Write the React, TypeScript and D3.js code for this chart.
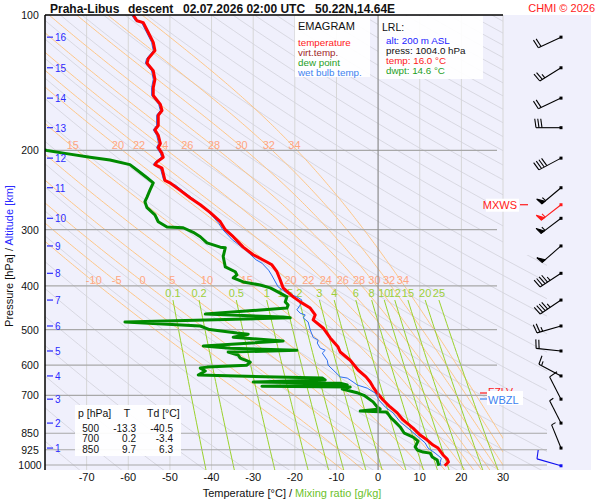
import { useEffect, useRef } from 'react'
import * as d3 from 'd3'

// sounding, Praha-Libus descent 02.07.2026 02:00 UTC (p in hPa, values in °C)
const tempP = [1004, 985, 970, 950, 917, 903, 880, 858, 828, 794, 766, 743, 717, 692, 671, 654, 637, 615, 585, 561, 547, 522, 496, 476, 464, 448, 434, 423, 404, 388, 372, 359, 354, 341, 328, 311, 300, 288, 275, 264, 255, 245, 236, 233, 219, 215, 212, 207, 203, 197, 193, 185, 180, 176, 167, 163, 158, 151, 145, 139, 133, 128, 125, 120, 115, 108, 104, 103, 100]
const tempT = [16.0, 16.9, 16.6, 15.6, 14.4, 13.2, 11.8, 10.1, 8.4, 6.0, 4.6, 2.9, 1.2, -0.2, -1.2, -1.9, -2.9, -4.8, -6.7, -9.1, -9.6, -11.5, -13.2, -15.6, -15.1, -16.3, -18.7, -20.4, -22.8, -23.5, -24.3, -25.5, -26.7, -30.0, -32.4, -34.8, -36.7, -37.9, -40.3, -42.7, -45.1, -47.6, -50.0, -51.2, -51.9, -53.6, -53.1, -51.6, -51.9, -52.8, -52.3, -52.8, -53.6, -52.8, -52.8, -51.9, -52.3, -54.0, -54.0, -53.6, -54.0, -55.5, -55.2, -53.6, -54.0, -55.5, -56.4, -57.9, -58.8]

const wetP = [1004, 985, 966, 941, 917, 893, 836, 802, 766, 743, 717, 692, 675, 664, 654, 641, 637, 615, 600, 585, 564, 556, 550, 536, 528, 520, 501, 481, 471, 464, 460, 452, 441, 430, 423, 415, 402, 378, 369, 356, 350, 333, 316, 300, 290, 281, 268, 258, 249, 239, 233, 219, 215, 212, 207, 203, 197, 193, 185, 180, 176, 167, 163, 158, 151, 145, 139, 133, 128, 125, 120, 115, 108, 104, 103, 100]
const wetT = [15.1, 14.9, 15.2, 13.7, 12.0, 11.3, 7.7, 5.3, 3.6, 1.7, 0.2, -0.7, -2.6, -5.0, -6.0, -7.4, -9.1, -10.8, -12.0, -12.2, -13.4, -12.7, -13.9, -14.6, -14.4, -15.6, -16.3, -16.8, -18.0, -17.5, -18.7, -19.5, -18.7, -18.3, -19.5, -21.9, -24.0, -25.6, -26.3, -27.9, -29.3, -31.8, -35.0, -37.3, -38.3, -39.6, -41.8, -44.0, -46.2, -48.6, -51.5, -52.3, -54.0, -53.5, -52.0, -52.3, -53.2, -52.7, -53.2, -54.0, -53.2, -53.2, -52.3, -52.7, -54.4, -54.4, -54.0, -54.4, -55.9, -55.6, -54.0, -54.4, -55.9, -56.8, -58.3, -59.2]

const dewP = [1004, 975, 960, 941, 936, 926, 912, 885, 867, 850, 823, 802, 786, 770, 762, 759, 751, 743, 724, 700, 692, 678, 671, 668, 664, 658, 654, 647, 641, 631, 618, 609, 606, 600, 591, 579, 570, 561, 556, 550, 544, 530, 522, 520, 512, 509, 500, 491, 481, 471, 469, 462, 448, 441, 434, 423, 415, 404, 398, 392, 384, 378, 372, 363, 344, 329, 328, 321, 311, 304, 297, 296, 288, 278, 268, 260, 254, 245, 236, 230, 221, 215, 210, 207, 203, 200, 196, 190]
const dewT = [14.6, 14.2, 13.0, 12.5, 10.8, 9.4, 8.9, 9.6, 8.4, 6.3, 5.3, 4.1, 3.1, 2.4, 1.9, -4.3, 0.5, -0.2, -1.2, -3.4, -4.8, -8.6, -6.7, -27.9, -7.4, -9.1, -30.0, -12.7, -13.4, -43.2, -41.5, -42.7, -41.1, -31.5, -30.7, -33.1, -33.6, -36.0, -19.5, -35.5, -42.0, -22.8, -32.4, -34.8, -31.2, -33.9, -40.5, -42.7, -60.8, -21.1, -22.8, -41.5, -21.9, -21.6, -22.3, -21.9, -23.5, -25.9, -28.3, -32.4, -34.8, -33.9, -34.3, -36.7, -37.2, -36.7, -37.9, -41.1, -42.7, -44.4, -46.8, -50.7, -52.8, -53.6, -55.5, -56.0, -55.5, -54.8, -54.0, -55.5, -57.9, -59.6, -64.4, -69.2, -75.2, -79.5, -83.6, -88.0]

// diagram grid
const isobars = [200, 300, 400, 500, 600, 700, 850, 925, 1000]
const pressureTicks = [100, 200, 300, 400, 500, 600, 700, 850, 925, 1000]
const tempTicks = [-70, -60, -50, -40, -30, -20, -10, 0, 10, 20, 30]
const thetaW = [-10, -5, 0, 5, 10, 15, 20, 22, 24, 26, 28, 30, 32, 34]
const thetaWUpper = [15, 20, 22, 24, 26, 28, 30, 32, 34]
const mixRatios = [0.1, 0.2, 0.5, 1, 1.5, 2, 3, 4, 6, 8, 10, 12, 15, 20, 25]

// altitude ticks and winds (kt) at each km
const altKm = [1, 2, 3, 4, 5, 6, 7, 8, 9, 10, 11, 12, 13, 14, 15, 16]
const altP = [917, 807, 714, 634, 558, 491, 430, 375, 326, 283, 242, 208, 178, 153, 131, 112]
const windDir = [338, 333, 333, 298, 276, 254, 236, 237, 229, 233, 230, 242, 270, 245, 238, 245]
const windSpd = [5, 5, 10, 15, 20, 25, 45, 45, 50, 55, 55, 40, 30, 20, 25, 20]
const surfWind = { p: 1004, dir: 286, spd: 10 }
const maxWind = { p: 264, dir: 232, spd: 55 }

const tableP = ['500', '700', '850']
const tableT = ['-13.3', '0.2', '9.7']
const tableTd = ['-40.5', '-3.4', '6.3']

const FONT = '"Liberation Sans", Arial, Helvetica, sans-serif'

function esat(tc: number) {
  return 6.112 * Math.exp((17.67 * tc) / (tc + 243.5))
}

// dT/dlnp along a pseudo-adiabat
function moistLapse(tk: number, p: number) {
  const es = esat(tk - 273.15)
  const rs = (0.622 * es) / (p - es)
  const Rd = 287.04, Cp = 1005.7, Lv = 2.501e6
  return (Rd * tk + Lv * rs) / (Cp + (Lv * Lv * rs * 0.622) / (Rd * tk * tk))
}

function moistAdiabat(thw: number) {
  const rk = (tk: number, lp: number, dl: number) => {
    const k1 = moistLapse(tk, Math.exp(lp))
    const k2 = moistLapse(tk + (k1 * dl) / 2, Math.exp(lp + dl / 2))
    return tk + k2 * dl
  }
  const pts: [number, number][] = [[1000, thw]]
  let tk = thw + 273.15
  let lp = Math.log(1000)
  for (let i = 0; i < 6; i++) {
    tk = rk(tk, lp, 0.01)
    lp += 0.01
    pts.unshift([Math.exp(lp), tk - 273.15])
  }
  tk = thw + 273.15
  lp = Math.log(1000)
  const dl = -Math.log(10) / 240
  for (let i = 0; i < 240; i++) {
    tk = rk(tk, lp, dl)
    lp += dl
    pts.push([Math.exp(lp), tk - 273.15])
  }
  return pts
}

function mixTd(w: number, p: number) {
  const e = (w * p) / (622 + w)
  const l = Math.log(e / 6.112)
  return (243.5 * l) / (17.67 - l)
}

export default function App() {
  const ref = useRef<SVGSVGElement>(null)

  useEffect(() => {
    if (!ref.current) return
    const svg = d3.select(ref.current)
    svg.selectAll('*').remove()

    const x = d3.scaleLinear().domain([-80, 30]).range([45, 503])
    const y = d3.scaleLog().domain([100, 1000]).range([15, 465])
    const yBottom = 470

    const defs = svg.append('defs')
    defs.append('clipPath').attr('id', 'clipMain')
      .append('rect').attr('x', 45).attr('y', 15).attr('width', 458).attr('height', yBottom - 15)
    const cd = defs.append('clipPath').attr('id', 'clipDry')
    cd.append('rect').attr('x', 45).attr('y', 15).attr('width', 458).attr('height', yBottom - 15)
    cd.append('rect').attr('x', 503).attr('y', 255).attr('width', 44).attr('height', yBottom - 255)

    svg.append('rect').attr('x', 45).attr('y', 15).attr('width', 546).attr('height', yBottom - 15)
      .attr('fill', '#f0f0fc')

    // isotherms
    svg.append('g').selectAll('line').data(tempTicks.filter(t => t !== 0)).join('line')
      .attr('x1', d => x(d)).attr('x2', d => x(d)).attr('y1', 15).attr('y2', yBottom)
      .attr('stroke', '#d6d6d6').attr('stroke-width', 1)

    const pLine = d3.line<[number, number]>().x(d => x(d[1])).y(d => y(d[0]))

    // dry adiabats
    const pSamples = d3.range(0, 61).map(i => 100 * Math.pow(10.5, i / 60))
    const thetas = d3.range(190, 610, 10)
    svg.append('g').attr('clip-path', 'url(#clipDry)').selectAll('path').data(thetas).join('path')
      .attr('d', th => pLine(pSamples.map(p => [p, th * Math.pow(p / 1000, 0.2857) - 273.15] as [number, number])))
      .attr('fill', 'none').attr('stroke', '#d2d2da').attr('stroke-width', 0.8)

    // moist adiabats
    const moist = thetaW.map(t => ({ t, pts: moistAdiabat(t) }))
    svg.append('g').attr('clip-path', 'url(#clipMain)').selectAll('path').data(moist).join('path')
      .attr('d', d => pLine(d.pts))
      .attr('fill', 'none').attr('stroke', '#ffc27a').attr('stroke-width', 0.9)

    // mixing ratio lines
    const pMix = d3.range(0, 31).map(i => 430 * Math.pow(1050 / 430, i / 30))
    svg.append('g').attr('clip-path', 'url(#clipMain)').selectAll('path').data(mixRatios).join('path')
      .attr('d', w => pLine(pMix.map(p => [p, mixTd(w, p)] as [number, number])))
      .attr('fill', 'none').attr('stroke', '#9ad22c').attr('stroke-width', 1)

    // isobars
    svg.append('g').selectAll('line').data(isobars).join('line')
      .attr('x1', 45).attr('x2', d => (d >= 850 ? 547 : 497))
      .attr('y1', d => y(d)).attr('y2', d => y(d))
      .attr('stroke', '#a8a8a8').attr('stroke-width', 1.2)

    // moist adiabat labels
    const xAt = (pts: [number, number][], p: number) => {
      let best = pts[0]
      for (const q of pts) if (Math.abs(Math.log(q[0] / p)) < Math.abs(Math.log(best[0] / p))) best = q
      return x(best[1])
    }
    const lblRow = (list: number[], p: number) => {
      svg.append('g').selectAll('text').data(list).join('text')
        .attr('x', t => xAt(moist.find(m => m.t === t)!.pts, p) + 3)
        .attr('y', y(p) + 4)
        .attr('text-anchor', 'middle')
        .attr('font-family', FONT).attr('font-size', 11).attr('fill', '#ffa682')
        .text(t => String(t))
    }
    lblRow(thetaWUpper, 194.6)
    lblRow(thetaW, 388)

    // mixing ratio labels
    svg.append('g').selectAll('text').data(mixRatios).join('text')
      .attr('x', w => x(mixTd(w, 430))).attr('y', y(414) + 4)
      .attr('text-anchor', 'middle')
      .attr('font-family', FONT).attr('font-size', 11).attr('fill', '#9ccf3a')
      .text(w => String(w))

    // profiles
    const profile = (P: number[], T: number[]) =>
      d3.line<number>().x(i => x(T[i])).y(i => y(P[i]))(d3.range(P.length))
    const prof = svg.append('g').attr('clip-path', 'url(#clipMain)').attr('fill', 'none')
      .attr('stroke-linejoin', 'round')
    prof.append('path').attr('d', profile(dewP, dewT)).attr('stroke', '#008a00').attr('stroke-width', 3)
    prof.append('path').attr('d', profile(wetP, wetT)).attr('stroke', '#2a6ef0').attr('stroke-width', 1)
    prof.append('path').attr('d', profile(tempP, tempT)).attr('stroke', '#ff0000').attr('stroke-width', 3)

    // legend box
    const txt = (g: d3.Selection<any, unknown, null, undefined>, tx: number, ty: number, s: string, color: string, size = 11) =>
      g.append('text').attr('x', tx).attr('y', ty).attr('font-family', FONT).attr('font-size', size)
        .attr('fill', color).text(s)

    svg.append('rect').attr('x', 295).attr('y', 16).attr('width', 75).attr('height', 61).attr('fill', '#ffffff').attr('opacity', 0.92)
    txt(svg, 298, 30, 'EMAGRAM', '#111', 11)
    txt(svg, 298, 45.5, 'temperature', '#ff1a1a', 9.8)
    txt(svg, 298, 55.5, 'virt.temp.', '#a02828', 9.8)
    txt(svg, 298, 65.5, 'dew point', '#1e9e1e', 9.8)
    txt(svg, 298, 75.5, 'wet bulb temp.', '#3d82f0', 9.8)

    svg.append('rect').attr('x', 378).attr('y', 16).attr('width', 105).attr('height', 63).attr('fill', '#ffffff').attr('opacity', 0.92)
    txt(svg, 382, 31, 'LRL:', '#111', 10.5)
    txt(svg, 386, 43.5, 'alt: 200 m ASL', '#2222ff', 9.8)
    txt(svg, 386, 53.5, 'press: 1004.0 hPa', '#111', 9.8)
    txt(svg, 386, 63.5, 'temp: 16.0 °C', '#ff1a1a', 9.8)
    txt(svg, 386, 73.5, 'dwpt: 14.6 °C', '#1e9e1e', 9.8)

    // 0 °C isotherm
    svg.append('line').attr('x1', x(0)).attr('x2', x(0)).attr('y1', 15).attr('y2', yBottom)
      .attr('stroke', '#8c8c8c').attr('stroke-width', 1.2)

    // table
    svg.append('rect').attr('x', 75).attr('y', 405).attr('width', 106).attr('height', 51).attr('fill', '#ffffff').attr('opacity', 0.92)
    txt(svg, 78, 417, 'p [hPa]', '#111', 10.5)
    svg.append('text').attr('x', 127).attr('y', 417).attr('text-anchor', 'middle').attr('font-family', FONT)
      .attr('font-size', 10.5).attr('fill', '#111').text('T')
    txt(svg, 147, 417, 'Td [°C]', '#111', 10.5)
    const rows = svg.append('g').attr('font-family', FONT).attr('font-size', 10).attr('fill', '#111').attr('text-anchor', 'end')
    tableP.forEach((p, i) => {
      const ty = 432 + i * 10.3
      rows.append('text').attr('x', 99).attr('y', ty).text(p)
      rows.append('text').attr('x', 136).attr('y', ty).text(tableT[i])
      rows.append('text').attr('x', 173).attr('y', ty).text(tableTd[i])
    })

    // frame
    svg.append('line').attr('x1', 45).attr('x2', 503).attr('y1', 15).attr('y2', 15).attr('stroke', '#000').attr('stroke-width', 1.5)
    svg.append('line').attr('x1', 45).attr('x2', 45).attr('y1', 15).attr('y2', yBottom).attr('stroke', '#000').attr('stroke-width', 1.5)

    // pressure axis
    svg.append('g').selectAll('text').data(pressureTicks).join('text')
      .attr('x', 30).attr('y', d => y(d) + 4).attr('text-anchor', 'middle')
      .attr('font-family', FONT).attr('font-size', 10.5).attr('fill', '#111')
      .text(d => String(d))

    // altitude ticks
    const alt = svg.append('g')
    alt.selectAll('line').data(altP).join('line')
      .attr('x1', 47).attr('x2', 53).attr('y1', d => y(d)).attr('y2', d => y(d))
      .attr('stroke', '#2a2aff').attr('stroke-width', 1.2)
    alt.selectAll('text').data(altKm).join('text')
      .attr('x', 55).attr('y', (d, i) => y(altP[i]) + 4)
      .attr('font-family', FONT).attr('font-size', 10).attr('fill', '#2a2aff')
      .text(d => String(d))

    // temperature axis
    svg.append('g').selectAll('text').data(tempTicks).join('text')
      .attr('x', d => x(d)).attr('y', 481).attr('text-anchor', 'middle')
      .attr('font-family', FONT).attr('font-size', 11).attr('fill', '#111')
      .text(d => String(d))

    const xt = svg.append('text').attr('x', 292).attr('y', 497).attr('text-anchor', 'middle')
      .attr('font-family', FONT).attr('font-size', 11)
    xt.append('tspan').attr('fill', '#111').text('Temperature [°C]  /  ')
    xt.append('tspan').attr('fill', '#6cc22a').text('Mixing ratio [g/kg]')

    const yt = svg.append('text').attr('transform', 'translate(13,256) rotate(-90)').attr('text-anchor', 'middle')
      .attr('font-family', FONT).attr('font-size', 11)
    yt.append('tspan').attr('fill', '#111').text('Pressure [hPa]  /  ')
    yt.append('tspan').attr('fill', '#2a2aff').text('Altitude [km]')

    // title
    const title = svg.append('g').attr('font-family', FONT).attr('font-size', 12).attr('font-weight', 'bold').attr('fill', '#111')
    title.append('text').attr('x', 50).attr('y', 12.5).text('Praha-Libus')
    title.append('text').attr('x', 128).attr('y', 12.5).text('descent')
    title.append('text').attr('x', 183).attr('y', 12.5).text('02.07.2026 02:00 UTC')
    title.append('text').attr('x', 315).attr('y', 12.5).text('50.22N,14.64E')
    svg.append('text').attr('x', 595).attr('y', 12).attr('text-anchor', 'end')
      .attr('font-family', FONT).attr('font-size', 11).attr('fill', '#ff1a1a').text('CHMI © 2026')

    // wind barbs
    const bx = 561
    const barb = (cy: number, dir: number, spd: number, color: string) => {
      const g = svg.append('g').attr('stroke', color).attr('fill', color).attr('stroke-width', 1.1)
      const L = 25, F = 9
      const r = (dir * Math.PI) / 180
      const ux = Math.sin(r), uy = -Math.cos(r)
      const fx = -uy * 0.99 + ux * 0.14, fy = ux * 0.99 + uy * 0.14
      g.append('line').attr('x1', bx).attr('y1', cy).attr('x2', bx + ux * L).attr('y2', cy + uy * L)
      g.append('rect').attr('x', bx - 1.5).attr('y', cy - 1.5).attr('width', 3).attr('height', 3).attr('stroke', 'none')
      let pos = L
      let rest = spd
      const at = (s: number) => [bx + ux * s, cy + uy * s]
      while (rest >= 50) {
        const [ax, ay] = at(pos)
        const [cx2, cy2] = at(pos - 4)
        g.append('polygon').attr('points', `${ax},${ay} ${ax + fx * 7},${ay + fy * 7} ${cx2},${cy2}`)
        pos -= 5
        rest -= 50
      }
      while (rest >= 10) {
        const [ax, ay] = at(pos)
        g.append('line').attr('x1', ax).attr('y1', ay).attr('x2', ax + fx * F).attr('y2', ay + fy * F)
        pos -= 3
        rest -= 10
      }
      if (rest >= 5) {
        const [ax, ay] = at(pos)
        g.append('line').attr('x1', ax).attr('y1', ay).attr('x2', ax + fx * F / 2).attr('y2', ay + fy * F / 2)
      }
    }
    altP.forEach((p, i) => barb(y(p), windDir[i], windSpd[i], '#000'))
    barb(y(surfWind.p), surfWind.dir, surfWind.spd, '#1010f0')
    barb(y(maxWind.p), maxWind.dir, maxWind.spd, '#ff1a1a')

    // level markers
    const ym = y(maxWind.p)
    svg.append('rect').attr('x', 486).attr('y', ym - 6).attr('width', 33).attr('height', 13).attr('fill', '#fff')
    svg.append('text').attr('x', 517).attr('y', ym + 4).attr('text-anchor', 'end').attr('font-family', FONT)
      .attr('font-size', 11).attr('fill', '#ff1a1a').text('MXWS')
    svg.append('line').attr('x1', 520).attr('x2', 528).attr('y1', ym).attr('y2', ym).attr('stroke', '#ff1a1a').attr('stroke-width', 1.2)

    const yf = 393, yw = 399
    svg.append('line').attr('x1', 480).attr('x2', 487).attr('y1', yf).attr('y2', yf).attr('stroke', '#ff1a1a').attr('stroke-width', 1.2)
    svg.append('text').attr('x', 488).attr('y', yf + 3).attr('font-family', FONT).attr('font-size', 10.5).attr('fill', '#ff1a1a').text('FZLV')
    svg.append('rect').attr('x', 487).attr('y', 391).attr('width', 36).attr('height', 14).attr('fill', '#fff')
    svg.append('line').attr('x1', 480).attr('x2', 487).attr('y1', yw).attr('y2', yw).attr('stroke', '#3d82f0').attr('stroke-width', 1.2)
    svg.append('text').attr('x', 488).attr('y', yw + 5).attr('font-family', FONT).attr('font-size', 11).attr('fill', '#3d82f0').text('WBZL')
  }, [])

  return (
    <svg
      ref={ref}
      width={600}
      height={500}
      style={{ position: 'absolute', left: 0, top: 0, background: '#fff' }}
    />
  )
}
